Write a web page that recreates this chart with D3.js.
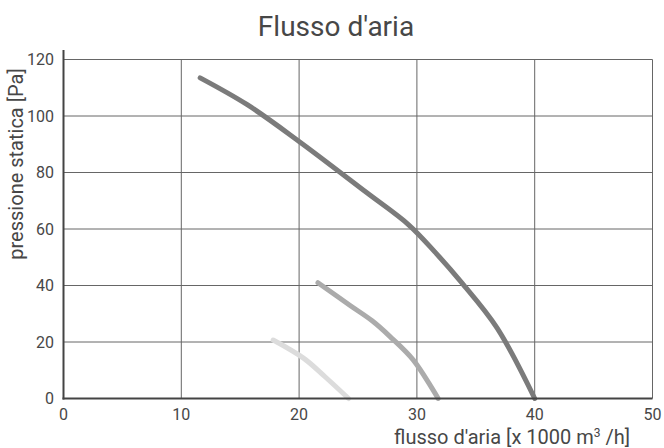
<!DOCTYPE html>
<html><head><meta charset="utf-8">
<script src="https://cdn.jsdelivr.net/npm/d3@7"></script>
<style>body{margin:0;background:#fff}svg{display:block}text{font-family:Roboto,sans-serif;fill:#474747}</style>
</head><body>
<svg id="c" width="664" height="448"></svg>
<script>
const xTicks = [0,10,20,30,40,50];
const yTicks = [0,20,40,60,80,100,120];
const seriesNames = ["alta","media","bassa"];
const seriesColors = ["#7b7b7b","#ababab","#dcdcdc"];
const curveHigh = [[11.6,113.5],[15.6,104],[20,91],[25.7,73],[29.3,61.5],[31.5,52],[33.8,41],[36.8,25],[40,0]];
const curveMid = [[21.6,41],[24.3,33],[26.2,27.5],[27.7,22],[29.7,13.6],[31.8,0]];
const curveLow = [[17.8,20.7],[20.4,14.2],[22.2,7.7],[24.2,0]];
const seriesData = [curveHigh, curveMid, curveLow];

const svg = d3.select("#c");
const x = d3.scaleLinear().domain([0,50]).range([63.5,652.5]);
const y = d3.scaleLinear().domain([0,120]).range([398.5,59.5]);

// grid
svg.append("g").selectAll("line").data(xTicks.filter(d=>d>0)).join("line")
  .attr("x1",d=>x(d)).attr("x2",d=>x(d)).attr("y1",y(0)).attr("y2",y(120))
  .attr("stroke","#666").attr("stroke-width",1);
svg.append("g").selectAll("line").data(yTicks.filter(d=>d>0)).join("line")
  .attr("x1",x(0)).attr("x2",x(50)).attr("y1",d=>y(d)).attr("y2",d=>y(d))
  .attr("stroke","#666").attr("stroke-width",1);

// curves
const line = d3.line().x(d=>x(d[0])).y(d=>y(d[1])).curve(d3.curveCatmullRom.alpha(0.5));
svg.append("g").selectAll("path").data(seriesData).join("path")
  .attr("d",line).attr("fill","none")
  .attr("stroke",(d,i)=>seriesColors[i]).attr("stroke-width",5)
  .attr("stroke-linecap","round").attr("stroke-linejoin","round");

// axes
svg.append("line").attr("x1",x(0)).attr("x2",x(0)).attr("y1",50).attr("y2",y(0)+1)
  .attr("stroke","#444").attr("stroke-width",2);
svg.append("line").attr("x1",x(0)-1).attr("x2",x(50)).attr("y1",y(0)).attr("y2",y(0))
  .attr("stroke","#444").attr("stroke-width",2);

// tick labels
svg.append("g").selectAll("text").data(yTicks).join("text")
  .attr("x",54).attr("y",d=>y(d)).attr("dy","0.35em").attr("text-anchor","end")
  .attr("font-size",16).text(d=>d);
svg.append("g").selectAll("text").data(xTicks).join("text")
  .attr("x",d=>x(d)).attr("y",414).attr("dy","0.35em").attr("text-anchor","middle")
  .attr("font-size",16).text(d=>d);

// titles
svg.append("text").attr("x",336).attr("y",36).attr("text-anchor","middle")
  .attr("font-size",28).text("Flusso d'aria");
svg.append("text").attr("transform","translate(23,164) rotate(-90)")
  .attr("text-anchor","middle").attr("font-size",20).text("pressione statica [Pa]");
const xl = svg.append("text").attr("x",630).attr("y",444).attr("text-anchor","end").attr("font-size",20);
xl.append("tspan").text("flusso d'aria [x 1000 m");
xl.append("tspan").attr("font-size",12).attr("dy",-7).text("3");
xl.append("tspan").attr("dy",7).text(" /h]");
</script>
</body></html>
